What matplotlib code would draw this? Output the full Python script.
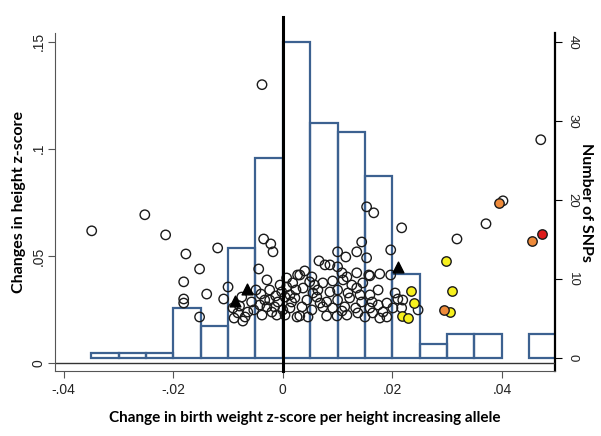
import matplotlib
matplotlib.use("Agg")
import matplotlib.pyplot as plt
import numpy as np

# ---- data ----
bin_left = [-0.035, -0.030, -0.025, -0.020, -0.015, -0.010, -0.005, 0.000,
            0.005, 0.010, 0.015, 0.020, 0.025, 0.030, 0.035, 0.045]
bin_count = [0.65, 0.65, 0.65, 6.3, 4.0, 14.0, 25.3, 40.0,
             29.8, 28.7, 23.1, 10.6, 1.8, 3.0, 3.0, 3.0]
bin_width = 0.005

white_x = [-0.0349, -0.0252, -0.0214, -0.0177, -0.0152, -0.0181, -0.0181, -0.0181, -0.0139, -0.0152,
           -0.0119, -0.0100, -0.0108, -0.0038, 0.0471, -0.0091, -0.0079, -0.0089, -0.0069, -0.0064,
           -0.0057, -0.0075, -0.0082, -0.0073, -0.0049, -0.0053, -0.0035, -0.0022, -0.0018, -0.0044,
           -0.0029, -0.0040, -0.0033, -0.0024, -0.0015, -0.0005, -0.0002, -0.0009, -0.0029, -0.0020,
           -0.0011, -0.0042, -0.0038, -0.0024, 0.0000, -0.0013, 0.0007, 0.0013, 0.0007, 0.0031,
           0.0040, 0.0053, 0.0073, 0.0108, 0.0117, 0.0135, 0.0157, 0.0177, 0.0018, 0.0037,
           0.0055, 0.0086, 0.0100, 0.0119, 0.0135, 0.0159, 0.0174, 0.0004, 0.0022, 0.0044,
           0.0062, 0.0080, 0.0100, 0.0122, 0.0144, 0.0163, 0.0190, 0.0210, 0.0013, 0.0035,
           0.0053, 0.0073, 0.0091, 0.0113, 0.0133, 0.0159, 0.0183, 0.0217, 0.0004, 0.0026,
           0.0046, 0.0080, 0.0099, 0.0117, 0.0137, 0.0164, 0.0190, 0.0153, 0.0166, 0.0217,
           0.0144, 0.0100, 0.0115, 0.0135, 0.0153, 0.0197, 0.0066, 0.0077, 0.0086, 0.0100,
           0.0159, 0.0197, 0.0027, 0.0049, 0.0110, 0.0064, 0.0024, 0.0126, 0.0146, 0.0091,
           0.0068, 0.0108, 0.0150, 0.0174, 0.0201, 0.0177, 0.0031, 0.0016, 0.0058, 0.0141,
           0.0247, 0.0219, 0.0371, 0.0318, 0.0402, 0.0205]
white_y = [0.0617, 0.0692, 0.0598, 0.0509, 0.0439, 0.0379, 0.0299, 0.0280, 0.0322, 0.0215,
           0.0537, 0.0355, 0.0299, 0.1299, 0.1042, 0.0257, 0.0266, 0.0210, 0.0215, 0.0238,
           0.0285, 0.0308, 0.0234, 0.0196, 0.0341, 0.0248, 0.0579, 0.0556, 0.0519, 0.0439,
           0.0388, 0.0322, 0.0294, 0.0294, 0.0262, 0.0364, 0.0332, 0.0285, 0.0262, 0.0238,
           0.0224, 0.0271, 0.0224, 0.0341, 0.0248, 0.0313, 0.0355, 0.0318, 0.0397, 0.0411,
           0.0430, 0.0402, 0.0374, 0.0421, 0.0402, 0.0421, 0.0411, 0.0416, 0.0374, 0.0350,
           0.0327, 0.0332, 0.0341, 0.0327, 0.0350, 0.0318, 0.0341, 0.0308, 0.0304, 0.0294,
           0.0308, 0.0285, 0.0294, 0.0304, 0.0285, 0.0285, 0.0280, 0.0299, 0.0257, 0.0262,
           0.0248, 0.0262, 0.0257, 0.0262, 0.0257, 0.0257, 0.0238, 0.0257, 0.0224, 0.0215,
           0.0215, 0.0220, 0.0220, 0.0224, 0.0234, 0.0234, 0.0215, 0.0729, 0.0701, 0.0631,
           0.0565, 0.0519, 0.0495, 0.0519, 0.0491, 0.0528, 0.0477, 0.0458, 0.0458, 0.0449,
           0.0407, 0.0411, 0.0411, 0.0379, 0.0388, 0.0341, 0.0341, 0.0364, 0.0374, 0.0383,
           0.0280, 0.0243, 0.0215, 0.0271, 0.0257, 0.0210, 0.0220, 0.0285, 0.0364, 0.0318,
           0.0248, 0.0294, 0.0650, 0.0579, 0.0757, 0.0327]

yellow_x = [0.0298, 0.0309, 0.0305, 0.0234, 0.0239, 0.0217, 0.0228]
yellow_y = [0.0477, 0.0336, 0.0238, 0.0336, 0.0280, 0.0220, 0.0210]
orange_x = [0.0395, 0.0455, 0.0294]
orange_y = [0.0748, 0.0570, 0.0248]
red_x = [0.0473]
red_y = [0.0603]
tri_x = [-0.0088, -0.0066, 0.0210]
tri_y = [0.0290, 0.0346, 0.0449]

xticks = [-0.04, -0.02, 0.0, 0.02, 0.04]
xticklabels = ["-.04", "-.02", "0", ".02", ".04"]
yticks = [0.0, 0.05, 0.1, 0.15]
yticklabels = ["0", ".05", ".1", ".15"]
y2ticks = [0, 10, 20, 30, 40]
y2ticklabels = ["0", "10", "20", "30", "40"]

# ---- figure ----
W, H = 601, 436
fig = plt.figure(figsize=(W / 100, H / 100), dpi=100)
fig.patch.set_facecolor("white")
ax = fig.add_axes([55 / W, 1 - 371 / H, 500 / W, 338 / H])
ax2 = ax.twinx()

label_font = ["Lato", "DejaVu Sans"]
tick_font = ["Liberation Sans", "DejaVu Sans"]

# histogram on right axis
ax2.bar(bin_left, bin_count, width=bin_width, align="edge", facecolor="none",
        edgecolor="#3c6190", linewidth=1.6, zorder=2)
ax2.set_ylim(-1.65, 41.2)
ax2.set_yticks(y2ticks)
ax2.set_yticklabels(y2ticklabels, rotation=-90, va="center", ha="left",
                    family=tick_font, fontsize=9.5)
ax2.set_ylabel("Number of SNPs", rotation=-90, labelpad=10, fontsize=11.5,
               fontweight="bold", family=label_font)

# scatter on left axis
ms = 46
ax.set_xlim(-0.0416, 0.0497)
ax.set_ylim(-0.0037, 0.154)
ax.axhline(0, color="#333333", linewidth=1.0, zorder=1)
ax.axvline(0, ymin=0, ymax=1.047, color="black", linewidth=2.2, zorder=5,
           clip_on=False)

ax.scatter(white_x, white_y, s=ms, facecolors="none", edgecolors="#1a1a1a",
           linewidths=1.0, zorder=3)
ax.scatter(yellow_x, yellow_y, s=ms, facecolors="#f6f01e", edgecolors="#1a1a1a",
           linewidths=1.0, zorder=4)
ax.scatter(orange_x, orange_y, s=ms, facecolors="#ee8a3a", edgecolors="#1a1a1a",
           linewidths=1.0, zorder=4)
ax.scatter(red_x, red_y, s=ms, facecolors="#dd1a1a", edgecolors="#1a1a1a",
           linewidths=1.0, zorder=4)
ax.scatter(tri_x, tri_y, s=60, marker="^", facecolors="black", edgecolors="black",
           zorder=4)

ax.set_zorder(ax2.get_zorder() + 1)
ax.patch.set_visible(False)

ax.set_xticks(xticks)
ax.set_xticklabels(xticklabels, family=tick_font, fontsize=10)
ax.set_yticks(yticks)
ax.set_yticklabels(yticklabels, rotation=90, va="center", family=tick_font,
                   fontsize=10)
ax.set_xlabel("Change in birth weight z-score per height increasing allele",
              fontsize=11, fontweight="bold", family=label_font, labelpad=10)
ax.set_ylabel("Changes in height z-score", fontsize=11.5, fontweight="bold",
              family=label_font, labelpad=4)

for a in (ax, ax2):
    a.spines["top"].set_visible(False)
ax.spines["right"].set_visible(False)
ax.spines["left"].set_color("#555555")
ax.spines["bottom"].set_color("#555555")
ax2.spines["left"].set_visible(False)
ax2.spines["bottom"].set_visible(False)
ax2.spines["right"].set_color("black")
ax2.spines["right"].set_linewidth(1.6)
ax.tick_params(axis="x", direction="out", length=5, color="#555555",
               colors="#222222")
ax.tick_params(axis="y", direction="out", length=5, color="#555555",
               colors="#222222", pad=2)
ax2.tick_params(axis="y", direction="out", length=5, color="black",
                colors="#222222")

fig.savefig("out.png", dpi=100, facecolor="white")
